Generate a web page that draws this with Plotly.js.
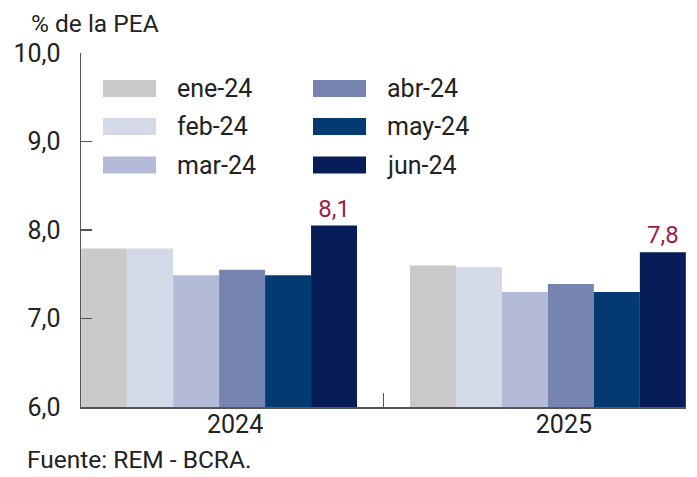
<!DOCTYPE html>
<html>
<head>
<meta charset="utf-8">
<script src="https://cdn.plot.ly/plotly-3.0.1.min.js"></script>
<style>html,body{margin:0;padding:0;background:#fff;}#chart{width:697px;height:477px;}</style>
</head>
<body>
<div id="chart"></div>
<script>
// ---- data ----
const years = ['2024', '2025'];
const seriesNames = ['ene-24', 'feb-24', 'mar-24', 'abr-24', 'may-24', 'jun-24'];
const ene24 = [7.79, 7.60];
const feb24 = [7.79, 7.58];
const mar24 = [7.49, 7.30];
const abr24 = [7.55, 7.39];
const may24 = [7.49, 7.30];
const jun24 = [8.05, 7.75];
const junLabels = ['8,1', '7,8'];
const yTicks = [6, 7, 8, 9, 10];

// ---- styling ----
const colors = ['#cacaca', '#d4d9e7', '#b4bbd8', '#7684b1', '#023a71', '#061d58'];
const FONT = 'Roboto, "Noto Sans", sans-serif';
const W = 697, H = 477;
const L = 81, R = 686, T = 53, B = 407;

const values = [ene24, feb24, mar24, abr24, may24, jun24];
const traces = seriesNames.map((name, i) => {
  const t = {
    type: 'bar', name: name, x: years, y: values[i],
    marker: {color: colors[i], line: {width: 0}},
    hoverinfo: 'x+y+name', cliponaxis: false
  };
  if (i === 5) {
    t.text = junLabels;
    t.texttemplate = '%{text}';
    t.textposition = 'outside';
    t.textfont = {family: FONT, size: 24, color: '#9c1c45'};
  }
  return t;
});

const px2x = px => (px - L) / (R - L);
const py2y = py => (B - py) / (B - T);

// manual legend: two columns of three
const legendCols = [103, 313];
const legendRows = [88.5, 126.5, 165];
const shapes = [];
const annotations = [];
seriesNames.forEach((name, i) => {
  const col = Math.floor(i / 3), row = i % 3;
  const x0 = legendCols[col], yc = legendRows[row];
  shapes.push({type: 'rect', xref: 'paper', yref: 'paper',
    x0: px2x(x0), x1: px2x(x0 + 53), y0: py2y(yc + 8.5), y1: py2y(yc - 8.5),
    fillcolor: colors[i], line: {width: 0}, layer: 'above'});
  annotations.push({xref: 'paper', yref: 'paper', x: px2x(x0 + 72), y: py2y(yc),
    xanchor: 'left', yanchor: 'middle', showarrow: false, text: name,
    font: {family: FONT, size: 25, color: '#222'}});
});
annotations.push({xref: 'paper', yref: 'paper', x: px2x(29), y: py2y(23),
  xanchor: 'left', yanchor: 'middle', showarrow: false, text: '% de la PEA',
  font: {family: FONT, size: 24.5, color: '#222'}});
annotations.push({xref: 'paper', yref: 'paper', x: px2x(25), y: py2y(460),
  xanchor: 'left', yanchor: 'middle', showarrow: false, text: 'Fuente: REM - BCRA.',
  font: {family: FONT, size: 24.5, color: '#222'}});

const layout = {
  width: W, height: H,
  margin: {l: L, r: W - R, t: T, b: H - B, pad: 0},
  paper_bgcolor: '#ffffff', plot_bgcolor: '#ffffff',
  showlegend: false,
  barmode: 'group', bargap: 0.161, bargroupgap: 0,
  separators: ',.',
  font: {family: FONT, size: 24, color: '#222'},
  xaxis: {
    type: 'category', range: [-0.42, 1.42], fixedrange: true,
    showline: true, linecolor: '#555', linewidth: 1.5,
    ticks: 'inside', tickson: 'boundaries', ticklen: 14, tickcolor: '#555', tickwidth: 1.5,
    ticklabelshift: 16, ticklabelstandoff: -6,
    tickfont: {family: FONT, size: 25, color: '#222'},
    showgrid: false, zeroline: false
  },
  yaxis: {
    range: [6, 10], tickvals: yTicks, tickformat: '.1f', fixedrange: true,
    showline: true, linecolor: '#555', linewidth: 1.5,
    ticks: 'inside', ticklen: 11, tickcolor: '#555', tickwidth: 1.5,
    ticklabelstandoff: 14,
    tickfont: {family: FONT, size: 25, color: '#222'},
    showgrid: false, zeroline: false
  },
  shapes: shapes,
  annotations: annotations
};

Plotly.newPlot('chart', traces, layout, {displayModeBar: false, staticPlot: true});
</script>
</body>
</html>
